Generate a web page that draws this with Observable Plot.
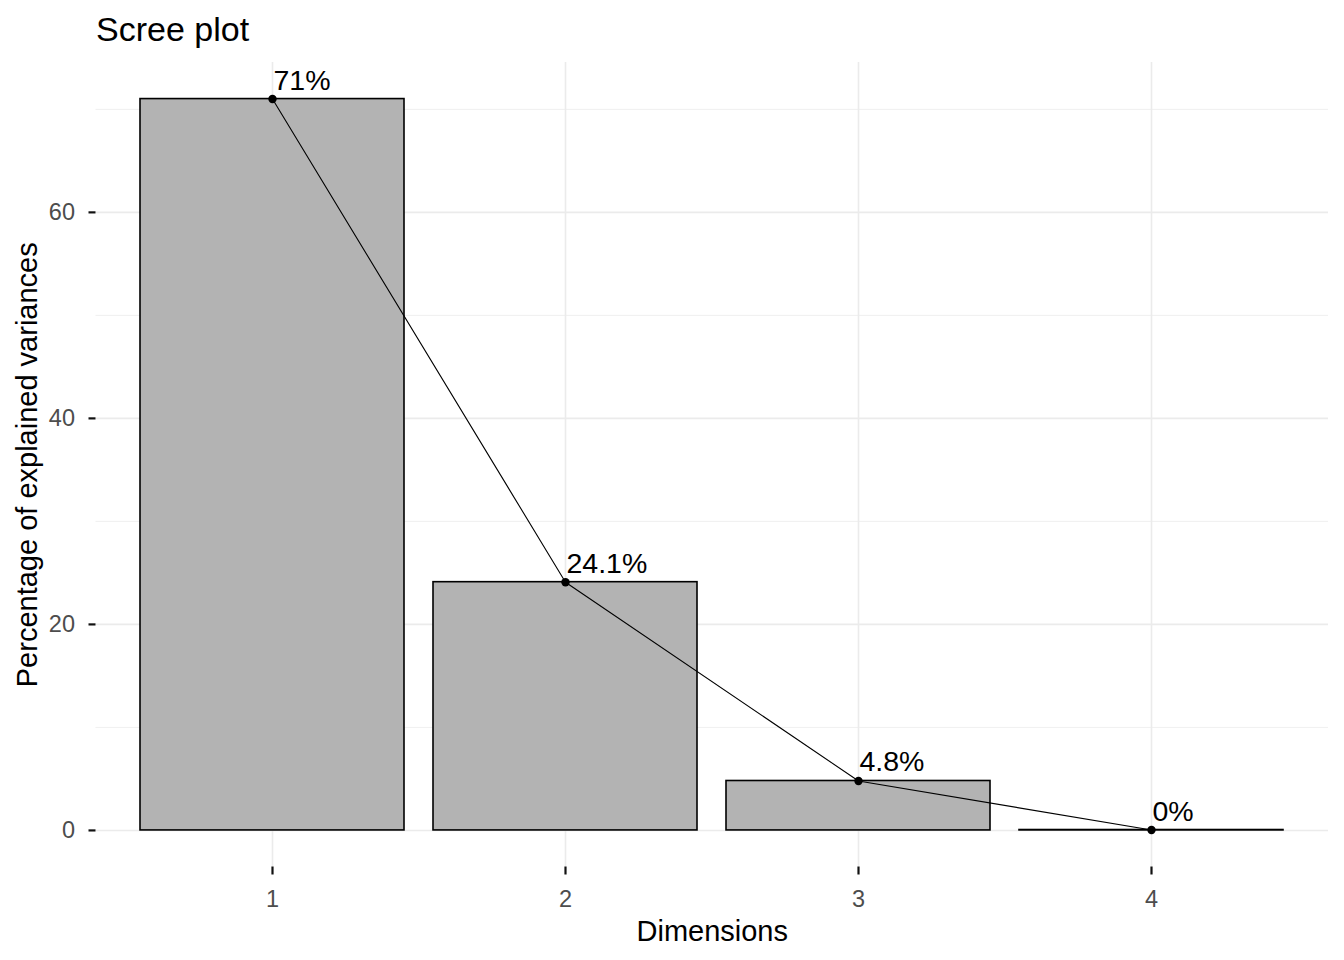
<!DOCTYPE html>
<html><head><meta charset="utf-8">
<script src="https://cdn.jsdelivr.net/npm/d3@7"></script>
<script src="https://cdn.jsdelivr.net/npm/@observablehq/plot@0.6"></script>
<style>body{margin:0;background:#fff}</style>
</head><body><div id="chart"></div>
<script>
const dimensions = [1, 2, 3, 4];
const variances = [71.0, 24.1, 4.8, 0.04];
const majorTicks = [0, 20, 40, 60];
const minorTicks = [10, 30, 50, 70];
const title = "Scree plot";
const xLabel = "Dimensions";
const yLabel = "Percentage of explained variances";

const data = dimensions.map((d, i) => ({dim: d, value: variances[i], label: `${+variances[i].toFixed(1)}%`}));

const font = "'Liberation Sans', Arial, sans-serif";
const chart = Plot.plot({
  width: 1344, height: 960,
  marginLeft: 95.5, marginRight: 16, marginTop: 62, marginBottom: 93.5,
  style: {fontFamily: font, background: "#fff"},
  x: {type: "band", domain: dimensions, paddingInner: 0.1, paddingOuter: 0.15},
  y: {domain: [-3.55, 74.55]},
  marks: [
    Plot.gridY(minorTicks, {stroke: "#EBEBEB", strokeOpacity: 1, strokeWidth: 0.8}),
    Plot.gridY(majorTicks, {stroke: "#EBEBEB", strokeOpacity: 1, strokeWidth: 1.6}),
    Plot.gridX(dimensions, {stroke: "#EBEBEB", strokeOpacity: 1, strokeWidth: 1.6}),
    Plot.barY(data, {x: "dim", y: "value", fill: "#B3B3B3", stroke: "black", strokeWidth: 1.6}),
    Plot.line(data, {x: "dim", y: "value", stroke: "black", strokeWidth: 1.1}),
    Plot.dot(data, {x: "dim", y: "value", r: 4.2, fill: "black"}),
    Plot.text(data, {x: "dim", y: "value", text: "label", textAnchor: "start", lineAnchor: "bottom", dx: 1, dy: -9.5, fontSize: 28.5, fill: "black"}),
    Plot.axisY(majorTicks, {tickSize: 7, tickPadding: 14, fontSize: 23.5, fill: "#4D4D4D", stroke: "#111", strokeOpacity: 1, strokeWidth: 2.2, label: null}),
    Plot.axisX(dimensions, {tickSize: 8, tickPadding: 15, fontSize: 23.5, fill: "#4D4D4D", stroke: "#111", strokeOpacity: 1, strokeWidth: 2.2, label: null}),
    Plot.text([xLabel], {frameAnchor: "bottom", textAnchor: "middle", lineAnchor: "bottom", dy: 74, fontSize: 29, fill: "black"}),
    Plot.text([yLabel], {frameAnchor: "left", textAnchor: "middle", rotate: -90, lineAnchor: "middle", dx: -68, fontSize: 29, fill: "black"}),
    Plot.text([title], {frameAnchor: "top-left", textAnchor: "start", lineAnchor: "bottom", dy: -22, fontSize: 34, fill: "black"})
  ]
});
document.getElementById("chart").appendChild(chart);
</script>
</body></html>
